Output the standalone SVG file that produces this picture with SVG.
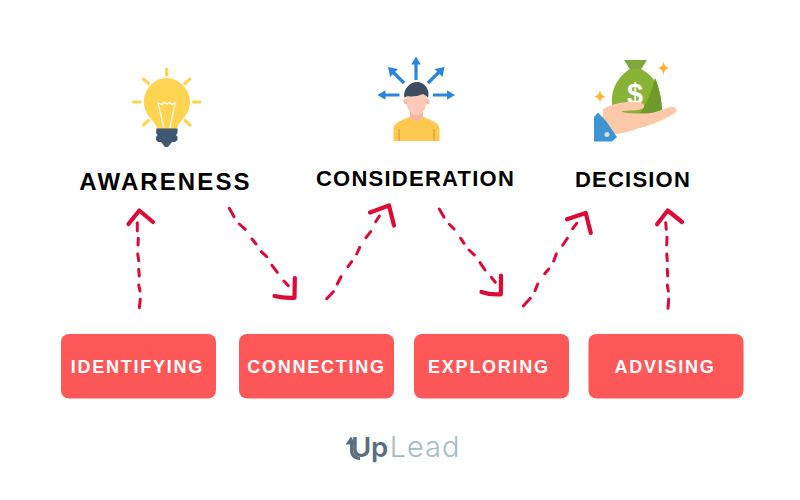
<svg xmlns="http://www.w3.org/2000/svg" width="800" height="500" viewBox="0 0 800 500">
<style>
.lbl{font-family:"Liberation Sans",Arial,sans-serif;font-weight:700;fill:#000;text-anchor:middle}
.btn{fill:#fe5757}
.bt{font-family:"Liberation Sans",Arial,sans-serif;font-weight:700;font-size:18px;letter-spacing:1.75px;fill:#fff;text-anchor:middle}
.dash{fill:none;stroke:#dc0a35;stroke-width:3;stroke-linecap:round;stroke-linejoin:round}
.head{fill:none;stroke:#dc0a35;stroke-width:4.200;stroke-linecap:round;stroke-linejoin:round}
.ray{fill:none;stroke:#ffd452;stroke-width:3.200;stroke-linecap:round}
.blue{fill:none;stroke:#2b84e0;stroke-width:3.200}
.bluef{fill:#2b84e0}
</style>
<rect width="800" height="500" fill="#fff"/>

<g id="awareness">
  <path class="ray" d="M166.700 69V75M143.500 79L148.500 83.500M190 79L185 83.500M133.500 102H140M193.500 102H200M143.500 125L148.500 120.500M190 125L185 120.500"/>
  <path d="M157 129C157 122 144 117 144 102C144 89 154 78 166.700 78C179 78 190 89 190 102C190 117 177 122 177 129Z" fill="#ffd452"/>
  <path d="M164 128L158 103L162 104.500L164.500 102.500L167 104L169.500 102.500L172 104.500L175 103L170 128" fill="none" stroke="#fff" stroke-width="1.200"/>
  <path d="M156.500 128.500H177.500V133L176 135L177.500 137V140L175 142H172L168 147H165L161 142H158L156 140V137L157.500 135L156 133Z" fill="#3e5871"/>
  <text class="lbl" x="165.500" y="189.500" font-size="24" letter-spacing="2.100">AWARENESS</text>
</g>

<g id="consideration">
  <path class="blue" d="M416 80V62M404 83L391.500 70.500M428 83L440.500 70.500M399.500 95H384M433 95H449"/>
  <path class="bluef" d="M416 56.500L420.800 64.500H411.200ZM388 67L398 69L390 77ZM444.500 67L442.500 77L434.500 69ZM377.500 95L385.500 90.200V99.800ZM455 95L447 90.200V99.800Z"/>
  <path d="M393.500 141V129C393.500 121 407 119 411 116H422C426 119 439.500 121 439.500 129V141Z" fill="#ffc850"/>
  <path d="M399 141V129M434 141V129" stroke="#f0ac36" stroke-width="2" fill="none"/>
  <path d="M410 110H423V117C420 122 413 122 410 117Z" fill="#f6b3a3"/>
  <circle cx="406.500" cy="101.500" r="3" fill="#f8bba9"/><circle cx="426.500" cy="101.500" r="3" fill="#f8bba9"/>
  <path d="M407 96C407 90 426 90 426 96V104C426 110 421 115.500 416.500 115.500C412 115.500 407 110 407 104Z" fill="#fdc9b8"/>
  <path d="M404.500 98C402.500 89 410 82 417 82C424 82 430.500 89 428 98C427 96 425 95 423 94C418 96.500 410 97 408 96C406.500 96.500 405.500 97 404.500 98Z" fill="#3e4c5e"/>
  <text class="lbl" x="415.500" y="186" font-size="22" letter-spacing="1.250">CONSIDERATION</text>
</g>

<g id="decision">
  <path d="M624 60H647L640 71H631Z" fill="#7fa83a"/>
  <path d="M630 69H641C645 71 656 78 659 90C661 97 662 105 662 115C650 124 625 124 612 117V100C612 84 623 73 630 69Z" fill="#88b337"/>
  <path d="M655 78C657 81 658 86 659 90C661 97 662 105 662 115C657 121 645 123 640 113C648 102 652 90 655 78Z" fill="#6d9a2a"/>
  <text x="635" y="104" font-family="'Liberation Sans',Arial,sans-serif" font-size="29" font-weight="700" fill="#fff" text-anchor="middle">$</text>
  <path d="M603 109C612 104 622 101.500 634 102C642 102.500 645 104 644 107C643 110 636 110.500 622 111C622 113 630 113.500 645 113.500C655 113.500 665 108 671 107C676 106 678 110 675 113C668 118 652 125 640 128C630 131 622 134 616 134L603 130Z" fill="#fdc9a9"/>
  <path d="M598 112.500L606 121L617 137L612 141.500H594V117Z" fill="#3f95d1"/>
  <circle cx="607" cy="134.500" r="2.500" fill="#cfe0ea"/>
  <path d="M663.500 61.500Q664 67 669.500 68Q664 69 663.500 75Q663 69 657.500 68Q663 67 663.500 61.500ZM600 90Q600.500 95.500 605.500 96.500Q600.500 97.500 600 103Q599.500 97.500 594 96.500Q599.500 95.500 600 90Z" fill="#ffb52e"/>
  <text class="lbl" x="633" y="187" font-size="22" letter-spacing="1.200">DECISION</text>
</g>

<g id="connectors">
  <path class="dash" d="M139.300 307.700L140.300 299.300M140 291L138.700 285M139.300 276L138.700 269.300M138.700 260.700L137.700 254M138 245L138.300 238.300M137.300 230.700L137.300 222.700"/>
  <path class="head" d="M128.500 224L139.300 210.500L153 222"/>
  <path class="dash" d="M229.300 208.300L234 216.700M239.300 224L245.300 229.300M252 239L256 244M261.300 251.700L266.700 256.700M272 265.300L277.300 272.300M284 281L288.300 285.700"/>
  <path class="head" d="M294.800 278L294.500 297.800Q283 298.300 274.500 296"/>
  <path class="dash" d="M326.700 298.700L333.300 291.700M337.300 284L341 276.700M348 266.700L351.700 261.700M356.700 254L359.700 247.300M366 237.700L370.700 231.700M375.700 221.700L379.300 216"/>
  <path class="head" d="M370 212.500L389 205.500L394 225.500"/>
  <path class="dash" d="M439.300 209L444 217.300M449.300 224.300L454 229M460.700 238.300L464 243.300M469 250L474.300 255M480 262.700L485 270M491.300 277.300L495.300 282.300"/>
  <path class="head" d="M501 275.500L500.800 294.300Q490 295 481.500 292"/>
  <path class="dash" d="M523.300 306L530.300 298.300M535 290.700L537.700 284M544.700 273.700L548.700 269M553.700 261L556.300 254M562.700 245.300L567.300 238.300M572.700 228.700L576.700 223.300"/>
  <path class="head" d="M567 219.300L585.700 213L590.800 233"/>
  <path class="dash" d="M668 308.300L668.700 299M668.300 291L667.300 285M667.700 276L667.300 269.300M667.300 260.700L666.700 254M666.700 245L667 237.300M666.300 229.300L665.700 222.700"/>
  <path class="head" d="M657 224.200L667.700 210.500L682 222"/>
</g>

<g id="identifying"><rect class="btn" x="61" y="334" width="155" height="64.500" rx="8"/><text class="bt" x="137.500" y="373">IDENTIFYING</text></g>
<g id="connecting"><rect class="btn" x="239" y="334" width="155" height="64.500" rx="8"/><text class="bt" x="316.500" y="373">CONNECTING</text></g>
<g id="exploring"><rect class="btn" x="414" y="334" width="155" height="64.500" rx="8"/><text class="bt" x="489" y="373">EXPLORING</text></g>
<g id="advising"><rect class="btn" x="588.500" y="334" width="155" height="64.500" rx="8"/><text class="bt" x="665" y="373">ADVISING</text></g>

<g id="uplead">
  <path d="M345.500 444.500L351 436.500L355.500 444.500H353V450C353 454 356 456.500 360 456.500V460C354 460 350 456.500 350 450V444.500Z" fill="#5b6e7f"/>
  <text x="351" y="457" font-family="Inter,'Liberation Sans',sans-serif" font-size="27.500" letter-spacing="-0.300"><tspan font-weight="600" fill="#5b6e7f">Up</tspan><tspan font-weight="300" fill="#a3bcc6" dx="2" font-size="29" letter-spacing="0.900">Lead</tspan></text>
</g>
</svg>
